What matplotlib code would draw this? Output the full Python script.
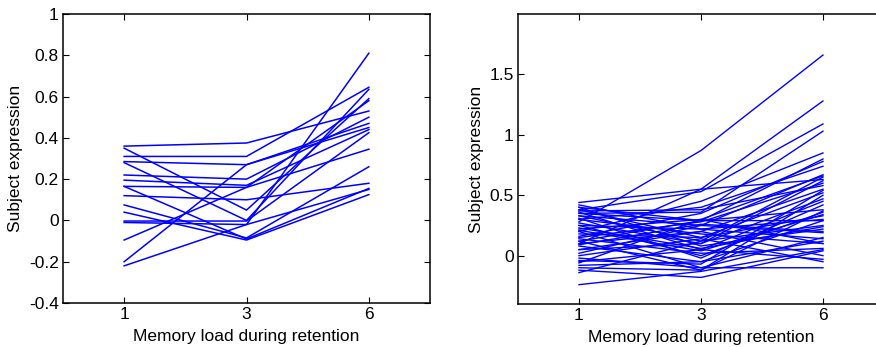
import numpy as np
import matplotlib
matplotlib.use("Agg")
import matplotlib.pyplot as plt

plt.rcParams['font.family'] = ['Liberation Sans', 'DejaVu Sans']

loads = ["1", "3", "6"]

# left panel: subject expression at load 1, 3, 6
left_l1 = [0.36, 0.35, 0.31, 0.285, 0.28, 0.22, 0.195, 0.165, 0.165, 0.12,
           0.075, 0.04, -0.003, -0.01, -0.095, -0.20, -0.22]
left_l3 = [0.375, 0.05, 0.31, 0.27, 0.00, 0.20, 0.17, 0.16, -0.09, 0.10,
           -0.085, -0.095, -0.003, -0.02, 0.16, 0.27, -0.02]
left_l6 = [0.53, 0.59, 0.645, 0.47, 0.635, 0.50, 0.44, 0.58, 0.155, 0.18,
           0.26, 0.125, 0.425, 0.81, 0.345, 0.45, 0.15]

# right panel
right_l1 = [0.28, 0.44, 0.38, 0.35, 0.20, 0.40, 0.30, 0.10, 0.33, 0.22,
            0.15, 0.05, 0.38, 0.27, -0.05, 0.12, 0.35, 0.25, 0.18, 0.08,
            -0.14, 0.40, 0.02, 0.20, -0.08, 0.30, 0.14, -0.12, 0.10, 0.36,
            -0.02, -0.24, 0.25, 0.05, -0.10, 0.42, 0.16, 0.00, 0.31, -0.06,
            0.23, 0.12, 0.37, 0.21, 0.09, -0.04, 0.33]
right_l3 = [0.87, 0.55, 0.53, 0.36, 0.45, 0.29, 0.40, 0.55, 0.25, 0.30,
            0.28, 0.20, 0.15, 0.10, 0.05, 0.29, 0.29, 0.00, 0.15, -0.05,
            0.12, 0.08, 0.25, -0.10, -0.05, 0.18, 0.02, -0.18, 0.20, 0.05,
            -0.10, -0.13, 0.22, 0.10, -0.12, 0.22, 0.35, 0.14, -0.02, 0.30,
            0.06, -0.12, 0.38, 0.04, 0.26, -0.07, 0.12]
right_l6 = [1.66, 1.28, 1.09, 1.03, 0.85, 0.80, 0.74, 0.63, 0.67, 0.66,
            0.60, 0.55, 0.52, 0.47, 0.45, 0.38, 0.29, 0.36, 0.33, 0.29,
            0.25, 0.22, 0.19, 0.15, 0.12, 0.10, 0.06, 0.04, 0.00, -0.03,
            -0.10, 0.05, 0.30, 0.62, 0.50, 0.14, 0.78, -0.05, 0.42, 0.10,
            0.24, 0.37, 0.58, 0.34, 0.20, 0.54, 0.65]

blue = '#0000ff'
fs = 12.5

fig = plt.figure(figsize=(8.76, 3.47), dpi=100)
ax1 = fig.add_axes([0.0719, 0.1268, 0.419, 0.8329])
ax2 = fig.add_axes([0.5913, 0.1239, 0.4178, 0.8358])

xpos = np.arange(1, 4)

for a, b, c in zip(left_l1, left_l3, left_l6):
    ax1.plot(xpos, [a, b, c], color=blue, lw=1.1)
for a, b, c in zip(right_l1, right_l3, right_l6):
    ax2.plot(xpos, [a, b, c], color=blue, lw=1.0)

ax1.set_ylim(-0.4, 1.0)
ax1.set_yticks([-0.4, -0.2, 0, 0.2, 0.4, 0.6, 0.8, 1.0])
ax1.set_yticklabels(["-0.4", "-0.2", "0", "0.2", "0.4", "0.6", "0.8", "1"])
ax2.set_ylim(-0.4, 2.0)
ax2.set_yticks([0, 0.5, 1.0, 1.5])
ax2.set_yticklabels(["0", "0.5", "1", "1.5"])

for ax in (ax1, ax2):
    ax.set_xlim(0.5, 3.5)
    ax.set_xticks(xpos)
    ax.set_xticklabels(loads)
    ax.tick_params(direction='in', length=4, width=0.8, labelsize=fs,
                   top=True, right=True, pad=3)
    for s in ax.spines.values():
        s.set_linewidth(1.1)
    ax.set_xlabel("Memory load during retention", fontsize=fs, labelpad=5)
    ax.set_ylabel("Subject expression", fontsize=fs, labelpad=4)

fig.savefig("out.png", dpi=100)
